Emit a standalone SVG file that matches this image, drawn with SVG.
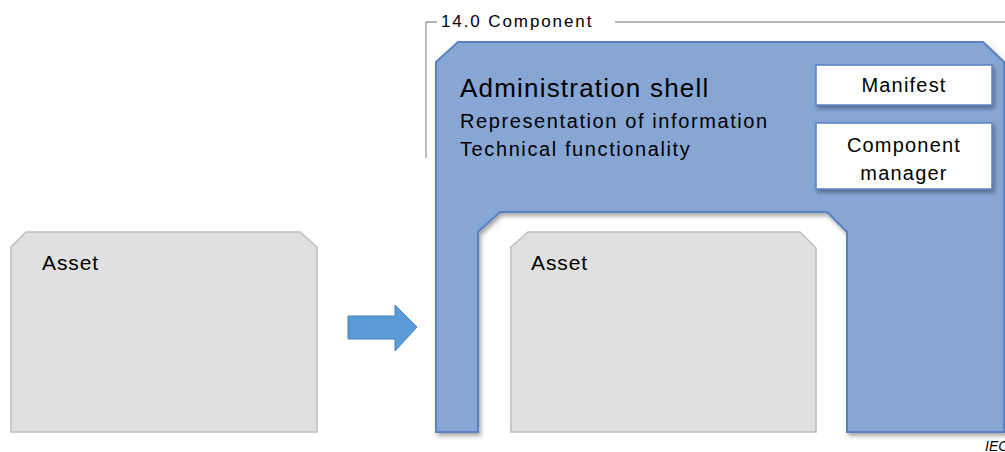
<svg xmlns="http://www.w3.org/2000/svg" width="1005" height="452" viewBox="0 0 1005 452">
<defs>
<filter id="sh" x="-10%" y="-10%" width="130%" height="130%">
<feDropShadow dx="2" dy="3" stdDeviation="2" flood-color="#000" flood-opacity="0.35"/>
</filter>
<style>
text{font-family:"Liberation Sans",Arial,sans-serif;fill:#000}
.asset{fill:#e0e0e0;stroke:#bdbdbd;stroke-width:1.5}
.shell{fill:#87a6d4;stroke:#5a82c2;stroke-width:2}
.box{fill:#fff;stroke:#5a82c2;stroke-width:1.5}
.br{fill:none;stroke:#9a9a9a;stroke-width:1.3}
</style>
</defs>
<rect width="1005" height="452" fill="#fff"/>
<g id="component-frame">
<path class="br" d="M426,158 L426,22 L437,22 M615,22 L1005,22"/>
<text x="441" y="27" font-size="17" letter-spacing="1.9">14.0 Component</text>
</g>
<g id="asset-left">
<path class="asset" d="M11,247 L26,232 L300,232 L317,247 L317,432 L11,432 Z"/>
<text x="42" y="270" font-size="21" letter-spacing="0.9">Asset</text>
</g>
<g id="connectors">
<path d="M348,316 L395,316 L395,305 L417,327 L395,351 L395,339 L348,339 Z" fill="#5b9bd5" stroke="#4a7fb8" stroke-width="1"/>
</g>
<g id="admin-shell">
<path class="shell" filter="url(#sh)" d="M436,62 L458,42 L983,42 L1004,62 L1004,432 L847,432 L847,232 L827,212 L500,212 L478,232 L478,432 L436,432 Z"/>
<text x="460" y="97" font-size="26" letter-spacing="1.2">Administration shell</text>
<text x="460" y="128" font-size="20" letter-spacing="1.6">Representation of information</text>
<text x="460" y="156" font-size="20" letter-spacing="1.6">Technical functionality</text>
</g>
<g id="manifest">
<rect class="box" filter="url(#sh)" x="816" y="65" width="176" height="40"/>
<text x="904" y="92" font-size="20" letter-spacing="1.2" text-anchor="middle">Manifest</text>
</g>
<g id="component-manager">
<rect class="box" filter="url(#sh)" x="816" y="123" width="176" height="66"/>
<text x="904" y="152" font-size="20" letter-spacing="1.2" text-anchor="middle">Component</text>
<text x="904" y="180" font-size="20" letter-spacing="1.2" text-anchor="middle">manager</text>
</g>
<g id="asset-inner">
<path class="asset" d="M511,247 L528,232 L800,232 L816,248 L816,432 L511,432 Z"/>
<text x="531" y="270" font-size="21" letter-spacing="0.9">Asset</text>
</g>
<text x="985" y="451" font-size="14" font-style="italic">IEC</text>
</svg>
